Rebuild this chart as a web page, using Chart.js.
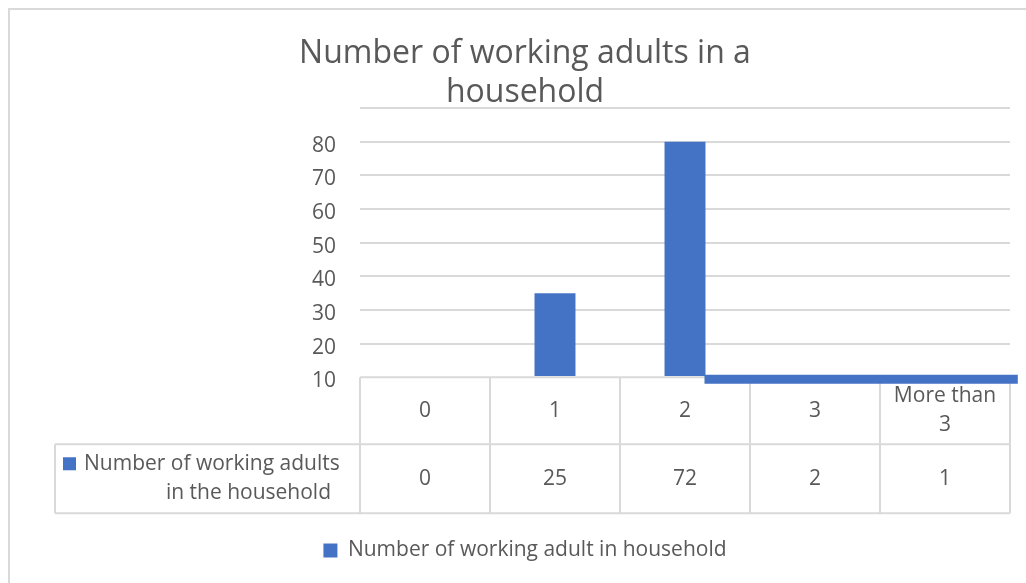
<!DOCTYPE html>
<html>
<head>
<meta charset="utf-8">
<script src="https://cdn.jsdelivr.net/npm/chart.js@4"></script>
<style>
  html, body { margin: 0; padding: 0; background: #fff; }
  #wrap { width: 1026px; height: 583px; }
</style>
</head>
<body>
<div id="wrap"><canvas id="chart" width="1026" height="583"></canvas></div>
<script>
// categories and values
const categories = ['0', '1', '2', '3', ['More than', '3']]
const tableValues = [0, 25, 72, 2, 1]
const barTops = [null, 35, 80, null, null]
const barBase = 10.4
// the flat strip along the bottom (runs from bar "2" past the last column)
const flatStrip = [{ x: 2.15, y: 9.4 }, { x: 4.56, y: 9.4 }]
const yTicks = [10, 20, 30, 40, 50, 60, 70, 80, 90]

const seriesLabel = 'Number of working adult in household'
const tableRowLabel = ['Number of working adults', 'in the household']
const titleLines = ['Number of working adults in a', 'household']

const blue = '#4472C4'
const grey = '#d9d9d9'
const textColor = '#595959'
const fontFamily = '"Open Sans", "Noto Sans", sans-serif'

// frame + data table under the plot
const tablePlugin = {
  id: 'dataTable',
  beforeDraw(chart) {
    const c = chart.ctx
    c.save()
    c.fillStyle = '#fff'
    c.fillRect(0, 0, chart.width, chart.height)
    c.strokeStyle = grey
    c.lineWidth = 2
    c.beginPath()
    c.moveTo(9, chart.height)
    c.lineTo(9, 9)
    c.lineTo(chart.width, 9)
    c.stroke()
    c.restore()
  },
  beforeDatasetsDraw(chart) {
    const c = chart.ctx
    const x = chart.scales.x
    const y = chart.scales.y
    const area = chart.chartArea
    const colW = area.width / categories.length
    const top = y.getPixelForValue(10)
    const mid = top + 67
    const bottom = mid + 69
    const labelLeft = 55

    c.save()
    c.strokeStyle = grey
    c.lineWidth = 2
    c.beginPath()
    c.moveTo(area.left, top); c.lineTo(area.right, top)
    c.moveTo(labelLeft, mid); c.lineTo(area.right, mid)
    c.moveTo(labelLeft, bottom); c.lineTo(area.right, bottom)
    c.moveTo(labelLeft, mid); c.lineTo(labelLeft, bottom)
    for (let i = 0; i <= categories.length; i++) {
      const px = area.left + i * colW
      c.moveTo(px, top); c.lineTo(px, bottom)
    }
    c.stroke()

    c.fillStyle = textColor
    c.font = '21px ' + fontFamily
    c.textAlign = 'center'
    c.textBaseline = 'middle'
    categories.forEach((cat, i) => {
      const cx = x.getPixelForValue(i)
      const lines = Array.isArray(cat) ? cat : [cat]
      const lh = 29
      const y0 = (top + mid) / 2 - (lines.length - 1) * lh / 2
      lines.forEach((t, k) => c.fillText(t, cx, y0 + k * lh))
      c.fillText(String(tableValues[i]), cx, (mid + bottom) / 2)
    })

    // row header with legend key
    c.fillStyle = blue
    c.fillRect(63, mid + 13, 13, 13)
    c.fillStyle = textColor
    c.textAlign = 'left'
    c.fillText(tableRowLabel[0], 84, mid + 20)
    c.textAlign = 'right'
    c.fillText(tableRowLabel[1], 331, mid + 49)
    c.restore()
  }
}

new Chart(document.getElementById('chart'), {
  data: {
    labels: categories,
    datasets: [
      {
        type: 'bar',
        label: seriesLabel,
        data: barTops,
        base: barBase,
        backgroundColor: blue,
        grouped: false,
        barPercentage: 0.315,
        categoryPercentage: 1
      },
      {
        type: 'line',
        label: 'strip',
        xAxisID: 'x2',
        data: flatStrip,
        borderColor: blue,
        borderWidth: 9,
        borderCapStyle: 'butt',
        pointRadius: 0,
        clip: false
      }
    ]
  },
  options: {
    responsive: false,
    animation: false,
    layout: { padding: { left: 40, right: 16, top: 0, bottom: 12 } },
    plugins: {
      title: {
        display: true,
        text: titleLines,
        color: textColor,
        font: { family: fontFamily, size: 32, weight: 'normal', lineHeight: 1.22 },
        padding: { top: 34, bottom: -4 }
      },
      legend: {
        position: 'bottom',
        labels: {
          color: textColor,
          font: { family: fontFamily, size: 21 },
          boxWidth: 14,
          boxHeight: 14,
          padding: 10,
          filter: item => item.datasetIndex === 0
        }
      },
      tooltip: { enabled: false }
    },
    scales: {
      x: {
        type: 'category',
        grid: { display: false },
        border: { display: false },
        ticks: { display: false },
        afterFit(scale) { scale.height = 146 }
      },
      x2: {
        type: 'linear',
        display: false,
        min: -0.5,
        max: 4.5
      },
      y: {
        min: 8,
        max: 90,
        border: { display: false },
        afterBuildTicks(scale) {
          scale.ticks = yTicks.map(v => ({ value: v }))
        },
        grid: {
          drawTicks: false,
          lineWidth: 2,
          color: ctx => (ctx.tick && ctx.tick.value >= 20 ? grey : 'rgba(0,0,0,0)')
        },
        ticks: {
          padding: 24,
          labelOffset: 4,
          color: textColor,
          font: { family: fontFamily, size: 21 },
          callback: v => (v < 90 ? String(v) : '')
        },
        afterFit(scale) { scale.width = 320 }
      }
    }
  },
  plugins: [tablePlugin]
})
</script>
</body>
</html>
